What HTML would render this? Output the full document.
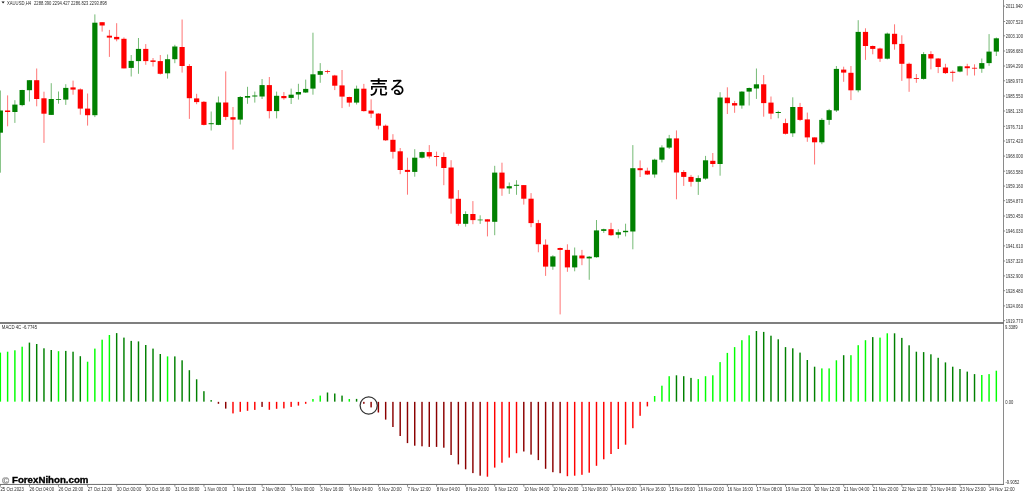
<!DOCTYPE html>
<html><head><meta charset="utf-8"><title>XAUUSD,H4</title>
<style>
html,body{margin:0;padding:0;background:#fff;}
body{width:1024px;height:493px;overflow:hidden;}
svg{display:block;}
.sm{font-family:"Liberation Sans",Arial,sans-serif;font-size:4.3px;fill:#2a2a2a;}
.wm{font-family:"Liberation Sans",Arial,sans-serif;font-weight:bold;font-size:8.6px;fill:#000;stroke:#000;stroke-width:0.35px;}
.jp{font-family:"Liberation Sans","Noto Sans CJK JP",sans-serif;font-size:18.6px;font-weight:500;fill:#000;}
</style></head>
<body>
<svg width="1024" height="493" viewBox="0 0 1024 493">
<rect width="1024" height="493" fill="#fff"/>
<path d="M0.35 90.5V172.7M14.89 100.2V122.9M22.16 89.8V106.3M29.43 80V101.5M51.24 83.2V115M58.51 91.5V103.7M65.78 84.2V104.9M94.86 14.4V117.1M131.21 55V76.5M138.48 38V73.8M167.56 54.5V78.6M174.83 44.8V63.2M211.18 111.5V130.5M218.45 96.5V125.2M240.26 96V124.5M247.53 86.8V103.8M254.8 91.6V102.6M262.07 79V99M276.61 91.6V118.4M291.15 88.6V104M298.42 83.8V99.6M305.69 79.6V93M312.96 32.7V94.7M320.23 63.1V82.8M356.58 85.6V104.5M414.74 149.2V176.7M422.01 151.6V158.5M465.63 211.3V226.7M480.17 215.3V223.9M494.71 165.8V235.2M509.25 182.5V193.9M516.52 180.2V194.8M552.87 255.2V269.8M574.68 247.5V271.3M589.22 256V279.8M596.49 220V257.7M603.76 228.7V232.9M618.3 229.3V238.3M625.57 223.7V236.4M632.84 145.1V249.3M654.65 158.7V177.7M661.92 145.3V162.4M669.19 134.9V149M698.27 175.4V194.9M705.54 155.9V179.8M720.08 92.2V175.7M741.89 91.2V108.7M749.16 87.5V105.5M756.43 68.5V98.9M778.24 110.8V118.3M792.78 97.3V136.9M821.86 118.2V144.2M829.13 108.9V124.8M836.4 66V112M858.21 20.2V92.3M887.29 32.6V59.4M923.64 52.1V79.6M959.99 65.8V72.3M981.8 58.5V72.8M989.07 34.1V65.8M996.34 37.5V56" stroke="#008000" stroke-width="0.55" fill="none"/>
<path d="M7.62 95.4V126.3M36.7 68.5V106.3M43.97 91.7V142.9M73.05 80.6V94.7M80.32 88.4V114.7M87.59 93.5V125.6M102.13 22.2V31.6M109.4 29.9V56.9M116.67 23.2V41.3M123.94 37.4V68.4M145.75 44.1V64.8M153.02 58V66.5M160.29 55V74.5M182.1 19.5V72.6M189.37 64.1V118.9M196.64 93.8V104.2M203.91 101.1V125.4M225.72 71.4V120.1M232.99 107V149.6M269.34 77V118.4M283.88 92.1V99.7M327.5 69.9V73.6M334.77 74.8V90.1M342.04 70V108.1M349.31 96.7V106.7M363.85 83.9V111.6M371.12 99.4V117.9M378.39 113.1V129.4M385.66 124.5V141M392.93 134.2V158.6M400.2 148V174.2M407.47 157.7V194.7M429.28 145.1V158.5M436.55 151.6V166.3M443.82 152.4V185.2M451.09 160.2V213.7M458.36 190.1V225.7M472.9 201.1V224.2M487.44 219.3V236.4M501.98 162.7V195.8M523.79 185V204.6M531.06 193.1V227.2M538.33 219.9V252.3M545.6 239.4V275.9M560.14 247.5V314.4M567.41 244.3V271.8M581.95 249.9V265.2M611.03 222.8V235.9M640.11 160.4V177M647.38 167.7V175M676.46 130.4V199.3M683.73 170.1V185.9M691 174.9V186.6M712.81 153V167.1M727.35 87.3V114M734.62 100.9V112.8M763.7 75.1V116.7M770.97 96.5V119.2M785.51 118.7V134.5M800.05 102.9V121.1M807.32 112.6V141.8M814.59 137.4V164.5M843.67 66.7V81.8M850.94 66V100.1M865.48 28.3V59.9M872.75 45.5V54.3M880.02 47.7V61.9M894.56 24.3V49.7M901.83 35.3V80.9M909.1 62.6V91.8M916.37 74V82.8M930.91 51.2V69.4M938.18 58V73.1M945.45 63.8V74M952.72 70.4V81.6M967.26 63.8V75.5M974.53 64.3V75.5" stroke="#ff0000" stroke-width="0.55" fill="none"/>
<g fill="#008000"><rect x="-2.25" y="110.5" width="5.2" height="22.2"/><rect x="12.29" y="104.6" width="5.2" height="7.4"/><rect x="19.56" y="90" width="5.2" height="15.1"/><rect x="26.83" y="80.2" width="5.2" height="10"/><rect x="48.64" y="99" width="5.2" height="15.9"/><rect x="55.91" y="99.2" width="5.2" height="0.8"/><rect x="63.18" y="87.9" width="5.2" height="11.7"/><rect x="92.26" y="22.7" width="5.2" height="92.5"/><rect x="128.61" y="60.9" width="5.2" height="7"/><rect x="135.88" y="48.9" width="5.2" height="12.2"/><rect x="164.96" y="59.2" width="5.2" height="14.1"/><rect x="172.23" y="46.5" width="5.2" height="12.7"/><rect x="208.58" y="123.2" width="5.2" height="1"/><rect x="215.85" y="102.5" width="5.2" height="22.4"/><rect x="237.66" y="97" width="5.2" height="22.6"/><rect x="244.93" y="96" width="5.2" height="1.7"/><rect x="252.2" y="95.5" width="5.2" height="1"/><rect x="259.47" y="85.1" width="5.2" height="11.4"/><rect x="274.01" y="95.8" width="5.2" height="15.3"/><rect x="288.55" y="94.7" width="5.2" height="3.2"/><rect x="295.82" y="92" width="5.2" height="2.5"/><rect x="303.09" y="88.9" width="5.2" height="3.6"/><rect x="310.36" y="74.3" width="5.2" height="14.3"/><rect x="317.63" y="71.1" width="5.2" height="3.7"/><rect x="353.98" y="88.7" width="5.2" height="13.9"/><rect x="412.14" y="157.7" width="5.2" height="14.2"/><rect x="419.41" y="152.1" width="5.2" height="5.6"/><rect x="463.03" y="214" width="5.2" height="9.8"/><rect x="477.57" y="219.6" width="5.2" height="0.7"/><rect x="492.11" y="172.6" width="5.2" height="49.2"/><rect x="506.65" y="186.2" width="5.2" height="2.2"/><rect x="513.92" y="184.8" width="5.2" height="1"/><rect x="550.27" y="256.4" width="5.2" height="10.2"/><rect x="572.08" y="255.5" width="5.2" height="11.9"/><rect x="586.62" y="256.7" width="5.2" height="1.7"/><rect x="593.89" y="230.4" width="5.2" height="26.8"/><rect x="601.16" y="229.2" width="5.2" height="1.7"/><rect x="615.7" y="232.2" width="5.2" height="2.5"/><rect x="622.97" y="230.8" width="5.2" height="1.4"/><rect x="630.24" y="168.2" width="5.2" height="63.3"/><rect x="652.05" y="159.7" width="5.2" height="14.8"/><rect x="659.32" y="147.5" width="5.2" height="12.2"/><rect x="666.59" y="138.4" width="5.2" height="9.2"/><rect x="695.67" y="178.1" width="5.2" height="3.7"/><rect x="702.94" y="160.3" width="5.2" height="18.3"/><rect x="717.48" y="97.5" width="5.2" height="66.5"/><rect x="739.29" y="91.6" width="5.2" height="13.9"/><rect x="746.56" y="88" width="5.2" height="3.6"/><rect x="753.83" y="84.3" width="5.2" height="4.2"/><rect x="775.64" y="112" width="5.2" height="1"/><rect x="790.18" y="107" width="5.2" height="26.3"/><rect x="819.26" y="119.9" width="5.2" height="22.4"/><rect x="826.53" y="110.2" width="5.2" height="9.7"/><rect x="833.8" y="68.9" width="5.2" height="41.6"/><rect x="855.61" y="31.9" width="5.2" height="58.4"/><rect x="884.69" y="33.6" width="5.2" height="25.1"/><rect x="921.04" y="54.1" width="5.2" height="24.8"/><rect x="957.39" y="66.3" width="5.2" height="5.3"/><rect x="979.2" y="63.1" width="5.2" height="5.6"/><rect x="986.47" y="51.6" width="5.2" height="11.5"/><rect x="993.74" y="38.3" width="5.2" height="13.3"/></g>
<g fill="#ff0000"><rect x="5.02" y="110.5" width="5.2" height="1.5"/><rect x="34.1" y="80.2" width="5.2" height="18.8"/><rect x="41.37" y="98.3" width="5.2" height="15.4"/><rect x="70.45" y="87.4" width="5.2" height="2.2"/><rect x="77.72" y="89.4" width="5.2" height="19.2"/><rect x="84.99" y="108.6" width="5.2" height="6.6"/><rect x="99.53" y="22.2" width="5.2" height="3.3"/><rect x="106.8" y="35.7" width="5.2" height="1.9"/><rect x="114.07" y="36.9" width="5.2" height="2.4"/><rect x="121.34" y="38.8" width="5.2" height="29.6"/><rect x="143.15" y="48.9" width="5.2" height="12.2"/><rect x="150.42" y="60.4" width="5.2" height="1.5"/><rect x="157.69" y="61.1" width="5.2" height="12.7"/><rect x="179.5" y="47" width="5.2" height="19"/><rect x="186.77" y="66" width="5.2" height="32.2"/><rect x="194.04" y="98.4" width="5.2" height="3.7"/><rect x="201.31" y="101.8" width="5.2" height="23.1"/><rect x="223.12" y="102.5" width="5.2" height="14.4"/><rect x="230.39" y="117.2" width="5.2" height="2.4"/><rect x="266.74" y="85.1" width="5.2" height="26"/><rect x="281.28" y="96" width="5.2" height="2.2"/><rect x="324.9" y="71.2" width="5.2" height="0.8"/><rect x="332.17" y="75.5" width="5.2" height="10.2"/><rect x="339.44" y="85.4" width="5.2" height="11.2"/><rect x="346.71" y="97" width="5.2" height="5.6"/><rect x="361.25" y="88.7" width="5.2" height="22.4"/><rect x="368.52" y="110.6" width="5.2" height="3"/><rect x="375.79" y="113.6" width="5.2" height="12.1"/><rect x="383.06" y="125.7" width="5.2" height="14.6"/><rect x="390.33" y="139.8" width="5.2" height="12"/><rect x="397.6" y="151.3" width="5.2" height="18.7"/><rect x="404.87" y="169.9" width="5.2" height="2"/><rect x="426.68" y="152.1" width="5.2" height="4.4"/><rect x="433.95" y="156" width="5.2" height="1"/><rect x="441.22" y="157" width="5.2" height="11"/><rect x="448.49" y="167.5" width="5.2" height="31.1"/><rect x="455.76" y="198.8" width="5.2" height="25"/><rect x="470.3" y="214" width="5.2" height="6.1"/><rect x="484.84" y="219.3" width="5.2" height="2.3"/><rect x="499.38" y="172.6" width="5.2" height="15.9"/><rect x="521.19" y="185.1" width="5.2" height="13.6"/><rect x="528.46" y="198.7" width="5.2" height="24.4"/><rect x="535.73" y="223.1" width="5.2" height="21.1"/><rect x="543" y="244.7" width="5.2" height="21.9"/><rect x="557.54" y="248" width="5.2" height="1.9"/><rect x="564.81" y="249.9" width="5.2" height="17.5"/><rect x="579.35" y="255.5" width="5.2" height="2.9"/><rect x="608.43" y="229.2" width="5.2" height="6"/><rect x="637.51" y="168.2" width="5.2" height="2"/><rect x="644.78" y="170.7" width="5.2" height="3.8"/><rect x="673.86" y="138.4" width="5.2" height="34.1"/><rect x="681.13" y="172" width="5.2" height="4.9"/><rect x="688.4" y="176.9" width="5.2" height="4.9"/><rect x="710.21" y="160.8" width="5.2" height="3.2"/><rect x="724.75" y="97.6" width="5.2" height="5.6"/><rect x="732.02" y="103.1" width="5.2" height="2.4"/><rect x="761.1" y="84.3" width="5.2" height="18.8"/><rect x="768.37" y="102.6" width="5.2" height="11"/><rect x="782.91" y="123.1" width="5.2" height="10.7"/><rect x="797.45" y="107" width="5.2" height="12.9"/><rect x="804.72" y="119.4" width="5.2" height="18"/><rect x="811.99" y="137.4" width="5.2" height="4.9"/><rect x="841.07" y="69.6" width="5.2" height="3"/><rect x="848.34" y="72.8" width="5.2" height="17.5"/><rect x="862.88" y="31.9" width="5.2" height="14.1"/><rect x="870.15" y="46" width="5.2" height="2.9"/><rect x="877.42" y="48.5" width="5.2" height="10.2"/><rect x="891.96" y="33.8" width="5.2" height="10.4"/><rect x="899.23" y="43.9" width="5.2" height="19.9"/><rect x="906.5" y="63.8" width="5.2" height="14.6"/><rect x="913.77" y="78" width="5.2" height="0.8"/><rect x="928.31" y="54.1" width="5.2" height="4.4"/><rect x="935.58" y="58.5" width="5.2" height="8.5"/><rect x="942.85" y="67.5" width="5.2" height="5.6"/><rect x="950.12" y="71.8" width="5.2" height="1"/><rect x="964.66" y="66.3" width="5.2" height="1.9"/><rect x="971.93" y="67.8" width="5.2" height="0.8"/></g>
<g fill="#00ff00"><rect x="-0.38" y="352.6" width="1.45" height="49.05"/><rect x="6.89" y="351.7" width="1.45" height="49.95"/><rect x="14.16" y="350.3" width="1.45" height="51.35"/><rect x="21.43" y="346.7" width="1.45" height="54.95"/><rect x="57.78" y="351.2" width="1.45" height="50.45"/><rect x="86.86" y="361.7" width="1.45" height="39.95"/><rect x="94.13" y="348.6" width="1.45" height="53.05"/><rect x="101.41" y="339.7" width="1.45" height="61.95"/><rect x="108.67" y="335" width="1.45" height="66.65"/><rect x="166.83" y="356.4" width="1.45" height="45.25"/><rect x="312.23" y="399" width="1.45" height="2.65"/><rect x="319.5" y="395.6" width="1.45" height="6.05"/><rect x="348.58" y="399" width="1.45" height="2.65"/><rect x="653.92" y="396" width="1.45" height="5.65"/><rect x="661.19" y="385.7" width="1.45" height="15.95"/><rect x="668.46" y="376.2" width="1.45" height="25.45"/><rect x="697.54" y="379.1" width="1.45" height="22.55"/><rect x="704.81" y="376.2" width="1.45" height="25.45"/><rect x="712.08" y="375.3" width="1.45" height="26.35"/><rect x="719.35" y="362.1" width="1.45" height="39.55"/><rect x="726.62" y="352.9" width="1.45" height="48.75"/><rect x="733.89" y="347.1" width="1.45" height="54.55"/><rect x="741.16" y="340.2" width="1.45" height="61.45"/><rect x="748.43" y="335.3" width="1.45" height="66.35"/><rect x="821.13" y="368.4" width="1.45" height="33.25"/><rect x="828.4" y="368.4" width="1.45" height="33.25"/><rect x="835.67" y="360.3" width="1.45" height="41.35"/><rect x="850.21" y="355.2" width="1.45" height="46.45"/><rect x="857.48" y="345.2" width="1.45" height="56.45"/><rect x="864.75" y="340.2" width="1.45" height="61.45"/><rect x="879.29" y="337.6" width="1.45" height="64.05"/><rect x="886.56" y="333.3" width="1.45" height="68.35"/><rect x="981.07" y="375" width="1.45" height="26.65"/><rect x="988.34" y="374.1" width="1.45" height="27.55"/><rect x="995.61" y="370.7" width="1.45" height="30.95"/></g>
<g fill="#008000"><rect x="28.7" y="342.6" width="1.45" height="59.05"/><rect x="35.97" y="344" width="1.45" height="57.65"/><rect x="43.24" y="348.3" width="1.45" height="53.35"/><rect x="50.52" y="350" width="1.45" height="51.65"/><rect x="65.05" y="350.9" width="1.45" height="50.75"/><rect x="72.32" y="351.7" width="1.45" height="49.95"/><rect x="79.59" y="356.2" width="1.45" height="45.45"/><rect x="115.94" y="333.1" width="1.45" height="68.55"/><rect x="123.21" y="337.6" width="1.45" height="64.05"/><rect x="130.48" y="340.9" width="1.45" height="60.75"/><rect x="137.75" y="341.4" width="1.45" height="60.25"/><rect x="145.02" y="345" width="1.45" height="56.65"/><rect x="152.29" y="348.6" width="1.45" height="53.05"/><rect x="159.56" y="354" width="1.45" height="47.65"/><rect x="174.1" y="356.4" width="1.45" height="45.25"/><rect x="181.38" y="360.3" width="1.45" height="41.35"/><rect x="188.64" y="370.2" width="1.45" height="31.45"/><rect x="195.91" y="379.3" width="1.45" height="22.35"/><rect x="203.19" y="391.2" width="1.45" height="10.45"/><rect x="210.45" y="400.1" width="1.45" height="1.55"/><rect x="326.77" y="392.5" width="1.45" height="9.15"/><rect x="334.04" y="393.5" width="1.45" height="8.15"/><rect x="341.31" y="395.6" width="1.45" height="6.05"/><rect x="355.85" y="398.9" width="1.45" height="2.75"/><rect x="675.74" y="375.3" width="1.45" height="26.35"/><rect x="683" y="376.2" width="1.45" height="25.45"/><rect x="690.27" y="377.9" width="1.45" height="23.75"/><rect x="755.7" y="331" width="1.45" height="70.65"/><rect x="762.97" y="331.9" width="1.45" height="69.75"/><rect x="770.25" y="335.7" width="1.45" height="65.95"/><rect x="777.51" y="339.3" width="1.45" height="62.35"/><rect x="784.78" y="347.1" width="1.45" height="54.55"/><rect x="792.05" y="348.3" width="1.45" height="53.35"/><rect x="799.32" y="352.6" width="1.45" height="49.05"/><rect x="806.59" y="360" width="1.45" height="41.65"/><rect x="813.87" y="366.7" width="1.45" height="34.95"/><rect x="842.94" y="355.2" width="1.45" height="46.45"/><rect x="872.02" y="337.1" width="1.45" height="64.55"/><rect x="893.83" y="333.3" width="1.45" height="68.35"/><rect x="901.1" y="337.9" width="1.45" height="63.75"/><rect x="908.38" y="345.3" width="1.45" height="56.35"/><rect x="915.64" y="351.7" width="1.45" height="49.95"/><rect x="922.91" y="352.1" width="1.45" height="49.55"/><rect x="930.18" y="354.3" width="1.45" height="47.35"/><rect x="937.45" y="357.8" width="1.45" height="43.85"/><rect x="944.72" y="362.4" width="1.45" height="39.25"/><rect x="951.99" y="366.7" width="1.45" height="34.95"/><rect x="959.26" y="369" width="1.45" height="32.65"/><rect x="966.53" y="371.6" width="1.45" height="30.05"/><rect x="973.8" y="374.1" width="1.45" height="27.55"/></g>
<g fill="#ff0000"><rect x="232.26" y="401.85" width="1.45" height="11.55"/><rect x="239.53" y="401.85" width="1.45" height="9.95"/><rect x="246.8" y="401.85" width="1.45" height="8.95"/><rect x="254.07" y="401.85" width="1.45" height="8.05"/><rect x="268.62" y="401.85" width="1.45" height="7.95"/><rect x="275.88" y="401.85" width="1.45" height="6.95"/><rect x="283.15" y="401.85" width="1.45" height="6.55"/><rect x="290.42" y="401.85" width="1.45" height="5.05"/><rect x="297.69" y="401.85" width="1.45" height="3.75"/><rect x="304.96" y="401.85" width="1.45" height="1.95"/><rect x="486.71" y="401.85" width="1.45" height="74.85"/><rect x="493.98" y="401.85" width="1.45" height="65.75"/><rect x="501.25" y="401.85" width="1.45" height="60.85"/><rect x="508.52" y="401.85" width="1.45" height="55.75"/><rect x="515.79" y="401.85" width="1.45" height="51.35"/><rect x="566.68" y="401.85" width="1.45" height="74.35"/><rect x="573.95" y="401.85" width="1.45" height="73.85"/><rect x="581.22" y="401.85" width="1.45" height="72.95"/><rect x="588.5" y="401.85" width="1.45" height="70.85"/><rect x="595.76" y="401.85" width="1.45" height="63.95"/><rect x="603.03" y="401.85" width="1.45" height="57.45"/><rect x="610.3" y="401.85" width="1.45" height="52.15"/><rect x="617.57" y="401.85" width="1.45" height="47.15"/><rect x="624.84" y="401.85" width="1.45" height="42.85"/><rect x="632.12" y="401.85" width="1.45" height="26.35"/><rect x="639.38" y="401.85" width="1.45" height="13.95"/><rect x="646.65" y="401.85" width="1.45" height="4.55"/></g>
<g fill="#8b0000"><rect x="217.72" y="401.85" width="1.45" height="1.95"/><rect x="224.99" y="401.85" width="1.45" height="6.75"/><rect x="261.34" y="401.85" width="1.45" height="5.05"/><rect x="363.12" y="401.85" width="1.45" height="1.95"/><rect x="370.39" y="401.85" width="1.45" height="5.55"/><rect x="377.66" y="401.85" width="1.45" height="10.65"/><rect x="384.94" y="401.85" width="1.45" height="17.75"/><rect x="392.2" y="401.85" width="1.45" height="25.15"/><rect x="399.47" y="401.85" width="1.45" height="34.15"/><rect x="406.75" y="401.85" width="1.45" height="41.25"/><rect x="414.01" y="401.85" width="1.45" height="43.85"/><rect x="421.28" y="401.85" width="1.45" height="44.45"/><rect x="428.55" y="401.85" width="1.45" height="45.05"/><rect x="435.82" y="401.85" width="1.45" height="45.05"/><rect x="443.09" y="401.85" width="1.45" height="45.85"/><rect x="450.36" y="401.85" width="1.45" height="53.15"/><rect x="457.63" y="401.85" width="1.45" height="62.55"/><rect x="464.9" y="401.85" width="1.45" height="67.45"/><rect x="472.17" y="401.85" width="1.45" height="71.25"/><rect x="479.44" y="401.85" width="1.45" height="73.85"/><rect x="523.06" y="401.85" width="1.45" height="49.65"/><rect x="530.33" y="401.85" width="1.45" height="52.75"/><rect x="537.61" y="401.85" width="1.45" height="58.25"/><rect x="544.88" y="401.85" width="1.45" height="66.95"/><rect x="552.14" y="401.85" width="1.45" height="70.35"/><rect x="559.41" y="401.85" width="1.45" height="71.35"/></g>
<path d="M1003.5 0V484.8" stroke="#8a8a8a" stroke-width="1" fill="none"/>
<path d="M0 322.9H1003.5" stroke="#555" stroke-width="1.5" fill="none"/>
<path d="M0 484.45H1004.0" stroke="#6e6e6e" stroke-width="1" fill="none"/>
<path d="M1003.5 6.1H1005.1M1003.5 21.5H1005.1M1003.5 35.8H1005.1M1003.5 51H1005.1M1003.5 66H1005.1M1003.5 80.8H1005.1M1003.5 96H1005.1M1003.5 111H1005.1M1003.5 126.3H1005.1M1003.5 141H1005.1M1003.5 156.1H1005.1M1003.5 171.2H1005.1M1003.5 186.1H1005.1M1003.5 200.7H1005.1M1003.5 216H1005.1M1003.5 231H1005.1M1003.5 245.9H1005.1M1003.5 261H1005.1M1003.5 275.9H1005.1M1003.5 290.7H1005.1M1003.5 305.9H1005.1M1003.5 320.7H1005.1M0.4 484.45V486.7M29.48 484.45V486.7M58.56 484.45V486.7M87.64 484.45V486.7M116.72 484.45V486.7M145.8 484.45V486.7M174.88 484.45V486.7M203.96 484.45V486.7M233.04 484.45V486.7M262.12 484.45V486.7M291.2 484.45V486.7M320.28 484.45V486.7M349.36 484.45V486.7M378.44 484.45V486.7M407.52 484.45V486.7M436.6 484.45V486.7M465.68 484.45V486.7M494.76 484.45V486.7M523.84 484.45V486.7M552.92 484.45V486.7M582 484.45V486.7M611.08 484.45V486.7M640.16 484.45V486.7M669.24 484.45V486.7M698.32 484.45V486.7M727.4 484.45V486.7M756.48 484.45V486.7M785.56 484.45V486.7M814.64 484.45V486.7M843.72 484.45V486.7M872.8 484.45V486.7M901.88 484.45V486.7M930.96 484.45V486.7M960.04 484.45V486.7M989.12 484.45V486.7" stroke="#6e6e6e" stroke-width="0.8" fill="none"/>
<g class="sm" opacity="0.99">
<path d="M1.5 1.6H4.7L3.1 3.4Z" fill="#111"/>
<text transform="matrix(1 0 0 1.1 7 4.6)" style="font-size:4.2px">XAUUSD,H4</text>
<text transform="matrix(1 0 0 1.1 34 4.6)" style="font-size:4.17px">2288.390 2294.427 2286.823 2293.898</text>
<text transform="matrix(1 0 0 1.15 1.8 329.1)" style="font-size:4.25px" textLength="35.3" lengthAdjust="spacingAndGlyphs">MACD 4C -6.7745</text>
<text transform="matrix(1 0 0 1.2 1005.75 8.4)" style="font-size:4.12px">2011.940</text>
<text transform="matrix(1 0 0 1.2 1005.75 23.8)" style="font-size:4.12px">2007.520</text>
<text transform="matrix(1 0 0 1.2 1005.75 38.1)" style="font-size:4.12px">2003.100</text>
<text transform="matrix(1 0 0 1.2 1005.75 53.3)" style="font-size:4.12px">1998.680</text>
<text transform="matrix(1 0 0 1.2 1005.75 68.3)" style="font-size:4.12px">1994.290</text>
<text transform="matrix(1 0 0 1.2 1005.75 83.1)" style="font-size:4.12px">1989.970</text>
<text transform="matrix(1 0 0 1.2 1005.75 98.3)" style="font-size:4.12px">1985.550</text>
<text transform="matrix(1 0 0 1.2 1005.75 113.3)" style="font-size:4.12px">1981.130</text>
<text transform="matrix(1 0 0 1.2 1005.75 128.6)" style="font-size:4.12px">1976.710</text>
<text transform="matrix(1 0 0 1.2 1005.75 143.3)" style="font-size:4.12px">1972.420</text>
<text transform="matrix(1 0 0 1.2 1005.75 158.4)" style="font-size:4.12px">1968.000</text>
<text transform="matrix(1 0 0 1.2 1005.75 173.5)" style="font-size:4.12px">1963.580</text>
<text transform="matrix(1 0 0 1.2 1005.75 188.4)" style="font-size:4.12px">1959.160</text>
<text transform="matrix(1 0 0 1.2 1005.75 203)" style="font-size:4.12px">1954.870</text>
<text transform="matrix(1 0 0 1.2 1005.75 218.3)" style="font-size:4.12px">1950.450</text>
<text transform="matrix(1 0 0 1.2 1005.75 233.3)" style="font-size:4.12px">1946.030</text>
<text transform="matrix(1 0 0 1.2 1005.75 248.2)" style="font-size:4.12px">1941.610</text>
<text transform="matrix(1 0 0 1.2 1005.75 263.3)" style="font-size:4.12px">1937.320</text>
<text transform="matrix(1 0 0 1.2 1005.75 278.2)" style="font-size:4.12px">1932.900</text>
<text transform="matrix(1 0 0 1.2 1005.75 293)" style="font-size:4.12px">1928.480</text>
<text transform="matrix(1 0 0 1.2 1005.75 308.2)" style="font-size:4.12px">1924.060</text>
<text transform="matrix(1 0 0 1.2 1005.75 323)" style="font-size:4.12px">1919.770</text>
<text transform="matrix(1 0 0 1.2 1005 328.7)" style="font-size:4.12px">9.3389</text>
<text transform="matrix(1 0 0 1.2 1005.2 404)" style="font-size:4.12px">0.00</text>
<text transform="matrix(1 0 0 1.2 1005.4 483.7)" style="font-size:4.12px">-9.9052</text>
<text transform="matrix(1 0 0 1.2 0.45 490.85)" style="font-size:4.3px">25 Oct 2023</text>
<text transform="matrix(1 0 0 1.2 29.53 490.85)" style="font-size:4.3px">26 Oct 04:00</text>
<text transform="matrix(1 0 0 1.2 58.61 490.85)" style="font-size:4.3px">26 Oct 20:00</text>
<text transform="matrix(1 0 0 1.2 87.69 490.85)" style="font-size:4.3px">27 Oct 12:00</text>
<text transform="matrix(1 0 0 1.2 116.77 490.85)" style="font-size:4.3px">30 Oct 00:00</text>
<text transform="matrix(1 0 0 1.2 145.85 490.85)" style="font-size:4.3px">30 Oct 16:00</text>
<text transform="matrix(1 0 0 1.2 174.93 490.85)" style="font-size:4.3px">31 Oct 08:00</text>
<text transform="matrix(1 0 0 1.2 204.01 490.85)" style="font-size:4.3px">1 Nov 00:00</text>
<text transform="matrix(1 0 0 1.2 233.09 490.85)" style="font-size:4.3px">1 Nov 16:00</text>
<text transform="matrix(1 0 0 1.2 262.17 490.85)" style="font-size:4.3px">2 Nov 08:00</text>
<text transform="matrix(1 0 0 1.2 291.25 490.85)" style="font-size:4.3px">3 Nov 00:00</text>
<text transform="matrix(1 0 0 1.2 320.33 490.85)" style="font-size:4.3px">3 Nov 16:00</text>
<text transform="matrix(1 0 0 1.2 349.41 490.85)" style="font-size:4.3px">6 Nov 04:00</text>
<text transform="matrix(1 0 0 1.2 378.49 490.85)" style="font-size:4.3px">6 Nov 20:00</text>
<text transform="matrix(1 0 0 1.2 407.57 490.85)" style="font-size:4.3px">7 Nov 12:00</text>
<text transform="matrix(1 0 0 1.2 436.65 490.85)" style="font-size:4.3px">8 Nov 04:00</text>
<text transform="matrix(1 0 0 1.2 465.73 490.85)" style="font-size:4.3px">8 Nov 20:00</text>
<text transform="matrix(1 0 0 1.2 494.81 490.85)" style="font-size:4.3px">9 Nov 12:00</text>
<text transform="matrix(1 0 0 1.2 523.89 490.85)" style="font-size:4.3px">10 Nov 04:00</text>
<text transform="matrix(1 0 0 1.2 552.97 490.85)" style="font-size:4.3px">10 Nov 20:00</text>
<text transform="matrix(1 0 0 1.2 582.05 490.85)" style="font-size:4.3px">13 Nov 08:00</text>
<text transform="matrix(1 0 0 1.2 611.13 490.85)" style="font-size:4.3px">14 Nov 00:00</text>
<text transform="matrix(1 0 0 1.2 640.21 490.85)" style="font-size:4.3px">14 Nov 16:00</text>
<text transform="matrix(1 0 0 1.2 669.29 490.85)" style="font-size:4.3px">15 Nov 08:00</text>
<text transform="matrix(1 0 0 1.2 698.37 490.85)" style="font-size:4.3px">16 Nov 00:00</text>
<text transform="matrix(1 0 0 1.2 727.45 490.85)" style="font-size:4.3px">16 Nov 16:00</text>
<text transform="matrix(1 0 0 1.2 756.53 490.85)" style="font-size:4.3px">17 Nov 08:00</text>
<text transform="matrix(1 0 0 1.2 785.61 490.85)" style="font-size:4.3px">19 Nov 23:00</text>
<text transform="matrix(1 0 0 1.2 814.69 490.85)" style="font-size:4.3px">20 Nov 12:00</text>
<text transform="matrix(1 0 0 1.2 843.77 490.85)" style="font-size:4.3px">21 Nov 04:00</text>
<text transform="matrix(1 0 0 1.2 872.85 490.85)" style="font-size:4.3px">21 Nov 20:00</text>
<text transform="matrix(1 0 0 1.2 901.93 490.85)" style="font-size:4.3px">22 Nov 12:00</text>
<text transform="matrix(1 0 0 1.2 931.01 490.85)" style="font-size:4.3px">23 Nov 04:00</text>
<text transform="matrix(1 0 0 1.2 960.09 490.85)" style="font-size:4.3px">23 Nov 23:00</text>
<text transform="matrix(1 0 0 1.2 989.17 490.85)" style="font-size:4.3px">24 Nov 12:00</text>
</g>
<text class="jp" x="369.6" y="93.6">売</text><text class="jp" x="389.2" y="93.6" textLength="16.5" lengthAdjust="spacingAndGlyphs">る</text>
<circle cx="368.7" cy="405.5" r="8.6" fill="none" stroke="#333" stroke-width="1.25"/>
<text x="1.9" y="483.5" style="font-family:'Liberation Sans',sans-serif;font-size:9.8px;font-weight:bold;fill:#8a8a8a;stroke:#8a8a8a;stroke-width:0.2px">©</text>
<text class="wm" x="12" y="482.7" textLength="76.5" lengthAdjust="spacingAndGlyphs">ForexNihon.com</text>
</svg>
</body></html>
